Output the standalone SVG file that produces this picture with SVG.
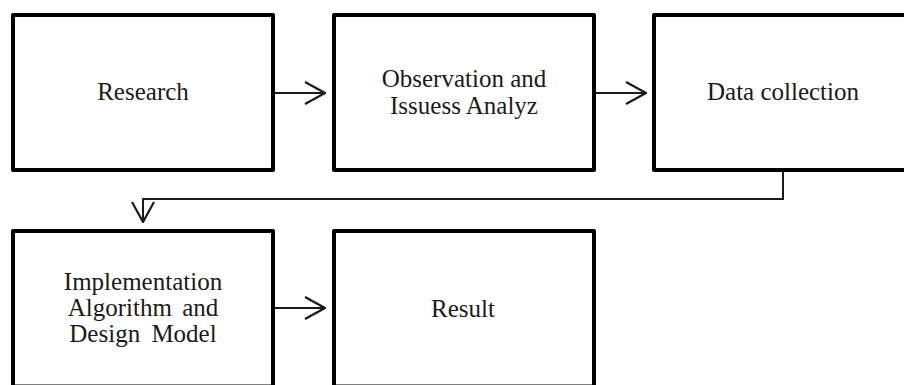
<svg xmlns="http://www.w3.org/2000/svg" width="904" height="385" viewBox="0 0 904 385">
<style>
.box{fill:#fff;stroke:#000;stroke-width:4;stroke-linejoin:round}
.lbl{font-family:"Liberation Serif","Times New Roman",serif;font-size:25px;fill:#1a1a1a;text-anchor:middle}
.con{fill:none;stroke:#1a1a1a;stroke-width:2}
</style>
<defs>
<marker id="ah" viewBox="0 0 22 24" refX="21" refY="12" markerWidth="22" markerHeight="24" markerUnits="userSpaceOnUse" orient="auto">
<path d="M1,1 L21,12 L1,23" fill="none" stroke="#1a1a1a" stroke-width="2.2"/>
</marker>
</defs>
<rect width="904" height="385" fill="#fff"/>
<g id="n1"><rect class="box" x="13" y="15" width="260" height="155"/><text class="lbl" x="143" y="100">Research</text></g>
<g id="n2"><rect class="box" x="334" y="15" width="260" height="155"/><text class="lbl" x="464" y="87">Observation and</text><text class="lbl" x="464" y="114">Issuess Analyz</text></g>
<g id="n3"><rect class="box" x="654" y="15" width="262" height="155"/><text class="lbl" x="783" y="100">Data collection</text></g>
<g id="n4"><rect class="box" x="13" y="231" width="260" height="155.5"/><text class="lbl" x="143" y="290">Implementation</text><text class="lbl" x="143" y="316" word-spacing="4">Algorithm and</text><text class="lbl" x="143" y="342" word-spacing="5">Design Model</text></g>
<g id="n5"><rect class="box" x="334" y="231" width="260" height="155.5"/><text class="lbl" x="463" y="317">Result</text></g>
<g id="connectors">
<path class="con" d="M275,93 H325" marker-end="url(#ah)"/>
<path class="con" d="M596,93 H646" marker-end="url(#ah)"/>
<path class="con" d="M783,172 V199 H143 V222" marker-end="url(#ah)"/>
<path class="con" d="M275,308 H325" marker-end="url(#ah)"/>
</g>
</svg>
